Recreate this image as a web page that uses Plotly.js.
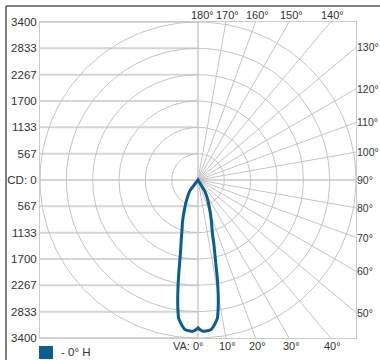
<!DOCTYPE html>
<html>
<head>
<meta charset="utf-8">
<script src="https://cdn.plot.ly/plotly-3.0.1.min.js"></script>
<style>html,body{margin:0;padding:0;background:#fff;}#chart{width:380px;height:360px;}</style>
</head>
<body>
<div id="chart"></div>
<script>
// ---- data ----
const seriesName = "- 0° H";
const angles = [0,1,2,3,5,6,7,8,9,10,11,12,13,14,15,16,18,20,22,25,28,31,33,35,37,39,45,60,90,120,150,180];
const cdC0   = [3180,3230,3256,3255,3230,3170,3090,3000,2777,2503,2195,1846,1595,1404,1200,1100,930,790,665,520,400,281,0,0,0,0,0,0,0,0,0,0];
const cdC180 = [3180,3230,3256,3255,3230,3170,3090,3000,2777,2510,2230,1950,1720,1540,1410,1298,1110,980,850,680,560,450,390,340,300,0,0,0,0,0,0,0];
const cdMax = 3400;
const ringValues = [566.67,1133.33,1700,2266.67,2833.33,3400];
const yTickVals = [3400,2833.33,2266.67,1700,1133.33,566.67,0,-566.67,-1133.33,-1700,-2266.67,-2833.33,-3400];
const yTickText = ["3400","2833","2267","1700","1133","567","CD: 0","567","1133","1700","2267","2833","3400"];
const radialAngles = [10,20,30,40,50,60,70,80,100,110,120,130,140,150,160,170];
const topLabels = [180,170,160,150,140];
const rightLabels = [130,120,110,100,90,80,70,60,50];
const bottomLabels = [0,10,20,30,40];

const FONT = 'Arial, "Liberation Sans", sans-serif';
const TXT = '#333333';
const CURVE = '#0b5d8d';
const d2r = Math.PI/180;

const traces = [];
// horizontal grid (left half)
yTickVals.forEach(v => {
  traces.push({x:[-cdMax,0], y:[v,v], mode:'lines', line:{color:'#d6d6d6', width:2}, hoverinfo:'skip', showlegend:false});
});
// axes through centre
traces.push({x:[0,cdMax], y:[0,0], mode:'lines', line:{color:'#d6d6d6', width:2}, hoverinfo:'skip', showlegend:false});
traces.push({x:[0,0], y:[-cdMax,cdMax], mode:'lines', line:{color:'#d6d6d6', width:2}, hoverinfo:'skip', showlegend:false});
// rings
ringValues.forEach(r => {
  const xs=[], ys=[];
  for(let a=0;a<=360;a+=2){ xs.push(r*Math.cos(a*d2r)); ys.push(r*Math.sin(a*d2r)); }
  traces.push({x:xs, y:ys, mode:'lines', line:{color:'#c4c4c4', width:1}, hoverinfo:'skip', showlegend:false});
});
// radial lines
radialAngles.forEach(t => {
  const L = cdMax*2;
  traces.push({x:[0, L*Math.sin(t*d2r)], y:[0, -L*Math.cos(t*d2r)], mode:'lines', line:{color:'#c4c4c4', width:1}, hoverinfo:'skip', showlegend:false});
});
// intensity curve
const cx=[], cy=[];
for(let i=angles.length-1;i>=0;i--){ cx.push(-cdC180[i]*Math.sin(angles[i]*d2r)); cy.push(-cdC180[i]*Math.cos(angles[i]*d2r)); }
for(let i=0;i<angles.length;i++){ cx.push(cdC0[i]*Math.sin(angles[i]*d2r)); cy.push(-cdC0[i]*Math.cos(angles[i]*d2r)); }
traces.push({x:cx, y:cy, mode:'lines', name:seriesName, line:{color:CURVE, width:3, shape:'spline', smoothing:0.4}, showlegend:false});

const toPaper = v => (v + cdMax) / (2*cdMax);
const annotations = [];
topLabels.forEach(t => {
  const xd = cdMax*Math.tan((180-t)*d2r);
  annotations.push({xref:'paper', yref:'paper', x:toPaper(xd), y:1, text:t+'°', showarrow:false,
    xanchor:'center', yanchor:'middle', yshift:7, xshift:(t===180?4:2), font:{family:FONT, size:11, color:TXT}});
});
rightLabels.forEach(t => {
  const yd = cdMax*(-Math.cos(t*d2r))/Math.sin(t*d2r);
  annotations.push({xref:'paper', yref:'paper', x:1, y:toPaper(yd), text:t+'°', showarrow:false,
    xanchor:'left', yanchor:'middle', xshift:-1, font:{family:FONT, size:10.5, color:TXT}});
});
bottomLabels.forEach(t => {
  const xd = cdMax*Math.tan(t*d2r);
  annotations.push({xref:'paper', yref:'paper', x:toPaper(xd), y:0, text:(t===0?'VA: 0°':t+'°'), showarrow:false,
    xanchor:(t===0?'right':'center'), yanchor:'middle', yshift:-8, xshift:(t===0?8:2), font:{family:FONT, size:11, color:TXT}});
});
// legend text
annotations.push({xref:'paper', yref:'paper', x:(59-40)/316, y:(338-352)/316, text:seriesName, showarrow:false,
  xanchor:'left', yanchor:'middle', font:{family:FONT, size:11.5, color:TXT}});

const shapes = [
  // legend swatch
  {type:'rect', xref:'paper', yref:'paper', x0:(39-40)/316, x1:(53-40)/316, y0:(338-346)/316, y1:(338-359)/316, fillcolor:CURVE, line:{width:0}},
  // outer frame lines
  {type:'line', xref:'paper', yref:'paper', x0:(6-40)/316, x1:(380-40)/316, y0:(338-6)/316, y1:(338-6)/316, line:{color:'#555', width:1.5}},
  {type:'line', xref:'paper', yref:'paper', x0:(6-40)/316, x1:(6-40)/316, y0:(338-6)/316, y1:(338-362)/316, line:{color:'#555', width:1.5}}
];

const layout = {
  width:380, height:360,
  margin:{l:40, r:24, t:22, b:22, pad:0},
  paper_bgcolor:'#fff', plot_bgcolor:'#fff',
  showlegend:false,
  xaxis:{range:[-cdMax,cdMax], showgrid:false, zeroline:false, showticklabels:false, ticks:'',
    showline:true, mirror:true, linecolor:'#cccccc', linewidth:1, fixedrange:true},
  yaxis:{range:[-cdMax,cdMax], showgrid:false, zeroline:false, tickmode:'array', tickvals:yTickVals, ticktext:yTickText, ticks:'',
    tickfont:{family:FONT, size:11.5, color:TXT}, showline:true, mirror:true, linecolor:'#cccccc', linewidth:1, fixedrange:true},
  annotations:annotations,
  shapes:shapes
};
Plotly.newPlot('chart', traces, layout, {staticPlot:true, displayModeBar:false});
</script>
</body>
</html>
